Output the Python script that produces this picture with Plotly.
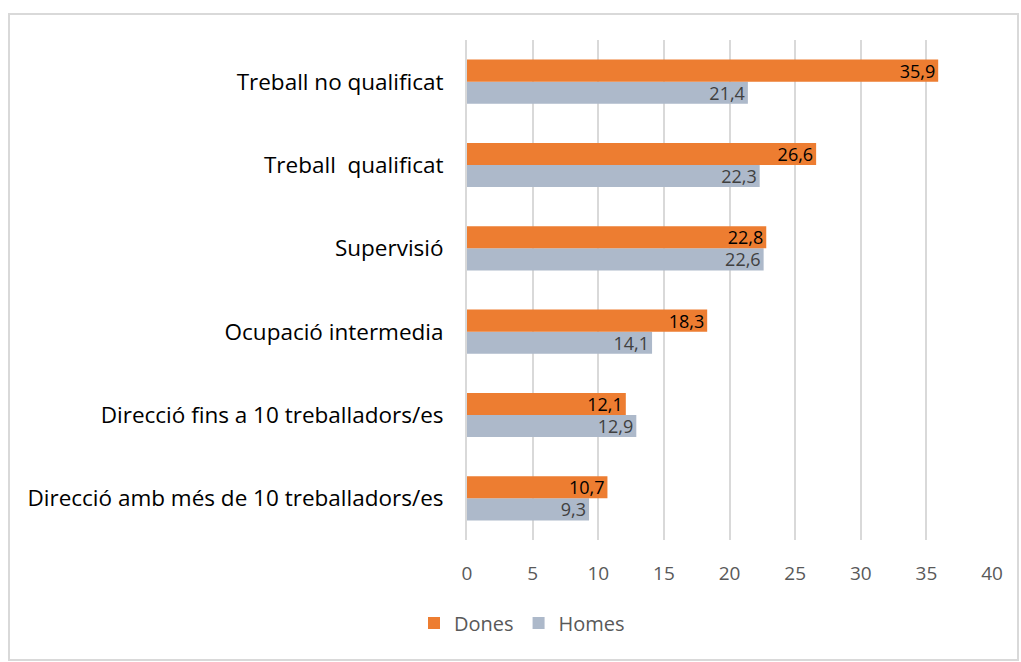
import plotly.graph_objects as go

categories = [
    "Direcció amb més de 10 treballadors/es",
    "Direcció fins a 10 treballadors/es",
    "Ocupació intermedia",
    "Supervisió",
    "Treball  qualificat",
    "Treball no qualificat",
]
dones = [10.7, 12.1, 18.3, 22.8, 26.6, 35.9]
homes = [9.3, 12.9, 14.1, 22.6, 22.3, 21.4]
tick_vals = [0, 5, 10, 15, 20, 25, 30, 35, 40]

FONT = "'Open Sans', Lato, sans-serif"

def fmt(v):
    return f"{v:.1f}".replace(".", ",")

fig = go.Figure()
fig.add_trace(go.Bar(
    y=categories, x=homes, name="Homes", orientation="h",
    marker=dict(color="#ADB9CA", line=dict(width=0)),
    text=[fmt(v) for v in homes], textposition="inside",
    insidetextanchor="end", constraintext="none", cliponaxis=False,
    textfont=dict(color="#404040", size=18, family=FONT),
))
fig.add_trace(go.Bar(
    y=categories, x=dones, name="Dones", orientation="h",
    marker=dict(color="#ED7D31", line=dict(width=0)),
    text=[fmt(v) for v in dones], textposition="inside",
    insidetextanchor="end", constraintext="none", cliponaxis=False,
    textfont=dict(color="#000000", size=18, family=FONT),
))

L, R, T, B = 467, 29, 40, 122
W, H = 1021, 662
pw, ph = W - L - R, H - T - B

def px_x(p):
    return (p - L) / pw

def px_y(p):
    return (H - B - p) / ph

fig.update_layout(
    width=W, height=H,
    margin=dict(l=L, r=R, t=T, b=B),
    barmode="group", bargap=0.47, bargroupgap=0,
    plot_bgcolor="white", paper_bgcolor="white",
    font=dict(family=FONT, color="#595959"),
    xaxis=dict(
        range=[0, 40], tickvals=tick_vals, showgrid=True,
        gridcolor="#D9D9D9", gridwidth=2, zeroline=False,
        tickfont=dict(size=19, color="#595959", family=FONT),
        ticks="", showline=False, ticklabelstandoff=20,
        automargin=False,
    ),
    yaxis=dict(
        showgrid=False, ticks="", showline=True, linecolor="#D9D9D9", linewidth=2,
        tickfont=dict(size=22.5, color="#000000", family=FONT),
        ticklabelstandoff=17, automargin=False,
    ),
    legend=dict(
        orientation="h", traceorder="reversed",
        xref="container", x=(522 / W), xanchor="center",
        yref="container", y=1 - 623 / H, yanchor="middle",
        font=dict(size=20, color="#595959", family=FONT),
        itemwidth=30,
    ),
    showlegend=True,
    shapes=[dict(
        type="rect", xref="paper", yref="paper",
        x0=px_x(9), x1=px_x(1018), y0=px_y(14), y1=px_y(660),
        line=dict(color="#D9D9D9", width=2), fillcolor="rgba(0,0,0,0)",
        layer="below",
    )],
)

fig.write_html(
    "out.html",
    config={"displayModeBar": False},
    post_script="document.body.style.margin='0';document.body.style.overflow='hidden';",
)
